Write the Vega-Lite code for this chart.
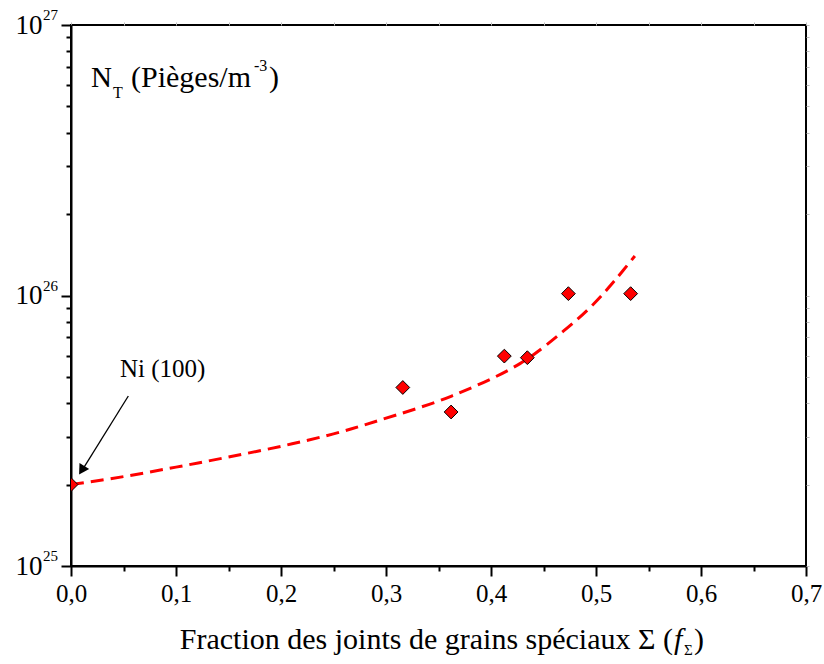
{
  "$schema": "https://vega.github.io/schema/vega-lite/v6.json",
  "width": 735,
  "height": 541,
  "autosize": {"type": "none"},
  "padding": {"left": 71, "top": 25, "right": 18, "bottom": 98},
  "background": "white",
  "config": {
    "view": {"stroke": "black", "strokeWidth": 2},
    "font": "Liberation Serif",
    "axis": {
      "labelFont": "Liberation Serif",
      "labelFontSize": 25,
      "labelColor": "black",
      "domainColor": "black",
      "domainWidth": 2,
      "tickColor": "black",
      "tickWidth": 2,
      "grid": false,
      "labelOverlap": false,
      "labelFlush": false,
      "labelBound": false
    },
    "text": {"font": "Liberation Serif", "color": "black"}
  },
  "datasets": {
    "fit": [
      {"x": 0.0, "y": 2.0e25},
      {"x": 0.05, "y": 2.14e25},
      {"x": 0.1, "y": 2.32e25},
      {"x": 0.148, "y": 2.52e25},
      {"x": 0.2, "y": 2.77e25},
      {"x": 0.25, "y": 3.08e25},
      {"x": 0.294, "y": 3.46e25},
      {"x": 0.3625, "y": 4.25e25},
      {"x": 0.4276, "y": 5.6e25},
      {"x": 0.4689, "y": 7.38e25},
      {"x": 0.4975, "y": 9.28e25},
      {"x": 0.518, "y": 1.138e26},
      {"x": 0.537, "y": 1.4e26}
    ],
    "pts": [
      {"x": 0.0, "y": 2.0e25},
      {"x": 0.316, "y": 4.57e25},
      {"x": 0.362, "y": 3.71e25},
      {"x": 0.4127, "y": 5.97e25},
      {"x": 0.4346, "y": 5.89e25},
      {"x": 0.4737, "y": 1.016e26},
      {"x": 0.533, "y": 1.016e26}
    ],
    "exps": [
      {"y": 1e25, "e": "25"},
      {"y": 1e26, "e": "26"},
      {"y": 1e27, "e": "27"}
    ],
    "one": [{"k": 1}]
  },
  "resolve": {"axis": {"x": "independent", "y": "independent"}},
  "layer": [
    {
      "data": {"name": "fit"},
      "mark": {"type": "line", "color": "#ff0000", "strokeWidth": 3, "strokeDash": [13, 7], "interpolate": "catmull-rom", "clip": true},
      "encoding": {
        "x": {
          "field": "x", "type": "quantitative",
          "scale": {"domain": [0, 0.7], "nice": false, "zero": false},
          "axis": {
            "orient": "bottom",
            "title": null,
            "values": [0, 0.05, 0.1, 0.15, 0.2, 0.25, 0.3, 0.35, 0.4, 0.45, 0.5, 0.55, 0.6, 0.65, 0.7],
            "tickSize": {"condition": {"test": "round(datum.value*100) % 10 == 0", "value": 10}, "value": 5},
            "labelExpr": "round(datum.value*100) % 10 == 0 ? replace(format(datum.value, '.1f'), '.', ',') : ''",
            "labelFont": "Liberation Serif",
            "labelFontSize": 25,
            "labelPadding": 5
          }
        },
        "y": {
          "field": "y", "type": "quantitative",
          "scale": {"type": "log", "domain": [1e25, 1e27], "nice": false},
          "axis": {
            "orient": "left",
            "title": null,
            "values": [1e25, 2e25, 3e25, 4e25, 5e25, 6e25, 7e25, 8e25, 9e25, 1e26, 2e26, 3e26, 4e26, 5e26, 6e26, 7e26, 8e26, 9e26, 1e27],
            "tickSize": {"condition": {"test": "datum.value == 1e25 || datum.value == 1e26 || datum.value == 1e27", "value": 10}, "value": 5},
            "labelExpr": "(datum.value == 1e25 || datum.value == 1e26 || datum.value == 1e27) ? '10' : ''",
            "labelFont": "Liberation Serif",
            "labelFontSize": 27,
            "labelPadding": 19
          }
        }
      }
    },
    {
      "data": {"name": "pts"},
      "mark": {"type": "point", "shape": "diamond", "filled": true, "fill": "#ff0000", "stroke": "black", "strokeWidth": 1, "size": 190, "opacity": 1, "clip": true},
      "encoding": {
        "x": {
          "field": "x", "type": "quantitative",
          "axis": {
            "orient": "top", "title": null, "labels": false, "domain": false,
            "values": [0, 0.05, 0.1, 0.15, 0.2, 0.25, 0.3, 0.35, 0.4, 0.45, 0.5, 0.55, 0.6, 0.65, 0.7],
            "tickSize": 3, "tickColor": "#bbbbbb", "tickWidth": 1
          }
        },
        "y": {
          "field": "y", "type": "quantitative",
          "axis": {
            "orient": "right", "title": null, "labels": false, "domain": false,
            "values": [1e25, 2e25, 3e25, 4e25, 5e25, 6e25, 7e25, 8e25, 9e25, 1e26, 2e26, 3e26, 4e26, 5e26, 6e26, 7e26, 8e26, 9e26, 1e27],
            "tickSize": 3, "tickColor": "#bbbbbb", "tickWidth": 1
          }
        }
      }
    },
    {
      "data": {"name": "one"},
      "mark": {"type": "rule", "color": "black", "strokeWidth": 1.3},
      "encoding": {
        "x": {"datum": 0.0546, "type": "quantitative", "axis": null},
        "y": {"datum": 4.25e25, "type": "quantitative", "axis": null},
        "x2": {"datum": 0.011},
        "y2": {"datum": 2.27e25}
      }
    },
    {
      "data": {"name": "one"},
      "mark": {"type": "point", "shape": "triangle-up", "filled": true, "color": "black", "size": 130, "angle": 212, "opacity": 1},
      "encoding": {
        "x": {"datum": 0.0102, "type": "quantitative", "axis": null},
        "y": {"datum": 2.26e25, "type": "quantitative", "axis": null}
      }
    },
    {
      "data": {"name": "one"},
      "mark": {"type": "text", "align": "left", "baseline": "alphabetic", "fontSize": 25},
      "encoding": {
        "x": {"datum": 0.0467, "type": "quantitative", "axis": null},
        "y": {"datum": 5.0e25, "type": "quantitative", "axis": null},
        "text": {"value": "Ni (100)"}
      }
    },
    {
      "data": {"name": "exps"},
      "mark": {"type": "text", "align": "left", "baseline": "alphabetic", "fontSize": 15, "dx": -28, "dy": -5},
      "encoding": {
        "x": {"datum": 0, "type": "quantitative", "axis": null},
        "y": {"field": "y", "type": "quantitative", "axis": null},
        "text": {"field": "e"}
      }
    },
    {
      "data": {"name": "one"},
      "mark": {"type": "text", "align": "left", "baseline": "alphabetic", "fontSize": 29, "dx": 20, "dy": 62},
      "encoding": {
        "x": {"datum": 0, "type": "quantitative", "axis": null},
        "y": {"datum": 1e27, "type": "quantitative", "axis": null},
        "text": {"value": "N"}
      }
    },
    {
      "data": {"name": "one"},
      "mark": {"type": "text", "align": "left", "baseline": "alphabetic", "fontSize": 16, "dx": 42, "dy": 73},
      "encoding": {
        "x": {"datum": 0, "type": "quantitative", "axis": null},
        "y": {"datum": 1e27, "type": "quantitative", "axis": null},
        "text": {"value": "T"}
      }
    },
    {
      "data": {"name": "one"},
      "mark": {"type": "text", "align": "left", "baseline": "alphabetic", "fontSize": 30, "dx": 60, "dy": 62},
      "encoding": {
        "x": {"datum": 0, "type": "quantitative", "axis": null},
        "y": {"datum": 1e27, "type": "quantitative", "axis": null},
        "text": {"value": "(Pièges/m"}
      }
    },
    {
      "data": {"name": "one"},
      "mark": {"type": "text", "align": "left", "baseline": "alphabetic", "fontSize": 16, "dx": 183, "dy": 46},
      "encoding": {
        "x": {"datum": 0, "type": "quantitative", "axis": null},
        "y": {"datum": 1e27, "type": "quantitative", "axis": null},
        "text": {"value": "-3"}
      }
    },
    {
      "data": {"name": "one"},
      "mark": {"type": "text", "align": "left", "baseline": "alphabetic", "fontSize": 30, "dx": 198, "dy": 62},
      "encoding": {
        "x": {"datum": 0, "type": "quantitative", "axis": null},
        "y": {"datum": 1e27, "type": "quantitative", "axis": null},
        "text": {"value": ")"}
      }
    },
    {
      "data": {"name": "one"},
      "mark": {"type": "text", "align": "right", "baseline": "alphabetic", "fontSize": 30, "dy": 83},
      "encoding": {
        "x": {"datum": 0.5733, "type": "quantitative", "axis": null},
        "y": {"datum": 1e25, "type": "quantitative", "axis": null},
        "text": {"value": "Fraction des joints de grains spéciaux Σ ("}
      }
    },
    {
      "data": {"name": "one"},
      "mark": {"type": "text", "align": "left", "baseline": "alphabetic", "fontSize": 30, "fontStyle": "italic", "dy": 83, "dx": 1},
      "encoding": {
        "x": {"datum": 0.5733, "type": "quantitative", "axis": null},
        "y": {"datum": 1e25, "type": "quantitative", "axis": null},
        "text": {"value": "f"}
      }
    },
    {
      "data": {"name": "one"},
      "mark": {"type": "text", "align": "left", "baseline": "alphabetic", "fontSize": 15, "dy": 89, "dx": 11},
      "encoding": {
        "x": {"datum": 0.5733, "type": "quantitative", "axis": null},
        "y": {"datum": 1e25, "type": "quantitative", "axis": null},
        "text": {"value": "Σ"}
      }
    },
    {
      "data": {"name": "one"},
      "mark": {"type": "text", "align": "left", "baseline": "alphabetic", "fontSize": 30, "dy": 83, "dx": 21},
      "encoding": {
        "x": {"datum": 0.5733, "type": "quantitative", "axis": null},
        "y": {"datum": 1e25, "type": "quantitative", "axis": null},
        "text": {"value": ")"}
      }
    }
  ]
}
